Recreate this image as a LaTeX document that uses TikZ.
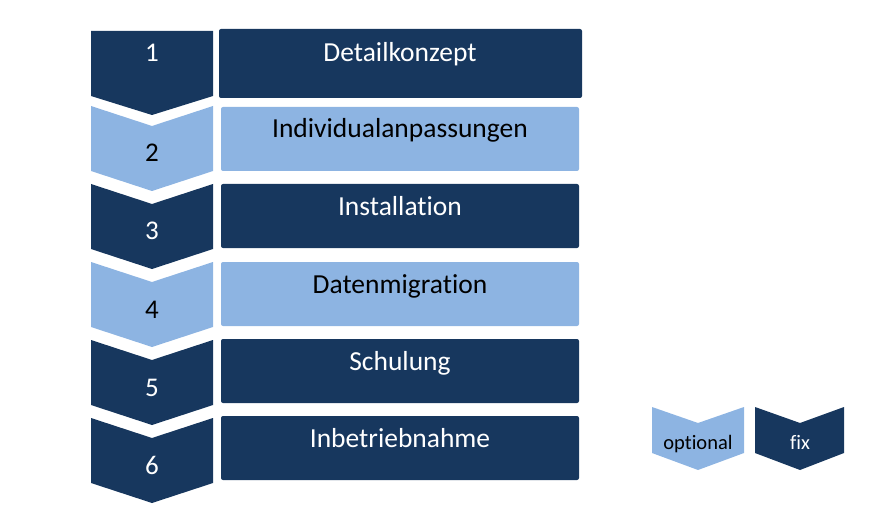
\documentclass[tikz,border=0pt]{standalone}
\usepackage{fontspec}
\setmainfont{Carlito}[Ligatures=NoCommon]
\usepackage{tikz}
\definecolor{stepdark}{RGB}{23,55,94}
\definecolor{steplight}{RGB}{141,180,226}

\begin{document}
\begin{tikzpicture}[x=1pt,y=-1pt,
	numtext/.style={anchor=base,font=\fontsize{27}{30}\selectfont},
	boxtext/.style={anchor=base,font=\fontsize{27.5}{30}\selectfont},
	legtext/.style={anchor=base,font=\fontsize{20.5}{23}\selectfont}]
	\useasboundingbox (0,0) rectangle (887,524);
	
	% first step, flat top
	\fill[stepdark] (91,31) -- (213,31) -- (213,96) -- (152,115) -- (91,96) -- cycle;
	\fill[stepdark,rounded corners=2pt] (219,29) rectangle (582,98);
	\node[numtext,text=white] (num1) at (152,62) {1};
	\node[boxtext,text=white] (lbl1) at (400,62) {Detailkonzept};
	
	% further steps
	\foreach \i/\t/\r/\c/\tc/\txt in {
		2/106/107/steplight/black/Individualanpassungen,
		3/184/184/stepdark/white/Installation,
		4/262/262/steplight/black/Datenmigration,
		5/340/339/stepdark/white/Schulung,
		6/418/416/stepdark/white/Inbetriebnahme}{
		\fill[\c] (91,\t) -- (152,\t+20) -- (213,\t) -- (213,\t+65) -- (152,\t+85) -- (91,\t+65) -- cycle;
		\fill[\c,rounded corners=2pt] (221,\r) rectangle (579,\r+64);
		\node[numtext,text=\tc] (num\i) at (152,\t+56) {\i};
		\node[boxtext,text=\tc] (lbl\i) at (400,\r+31) {\txt};
	}
	
	% legend
	\fill[steplight] (652,407) -- (698,423) -- (744,407) -- (744,453) -- (698,470) -- (652,453) -- cycle;
	\fill[stepdark] (755,407) -- (800,423) -- (844,407) -- (844,453) -- (800,470) -- (755,453) -- cycle;
	\node[legtext,text=black] (opt) at (698,449) {optional};
	\node[legtext,text=white] (fix) at (800,449) {fix};
\end{tikzpicture}
\end{document}
